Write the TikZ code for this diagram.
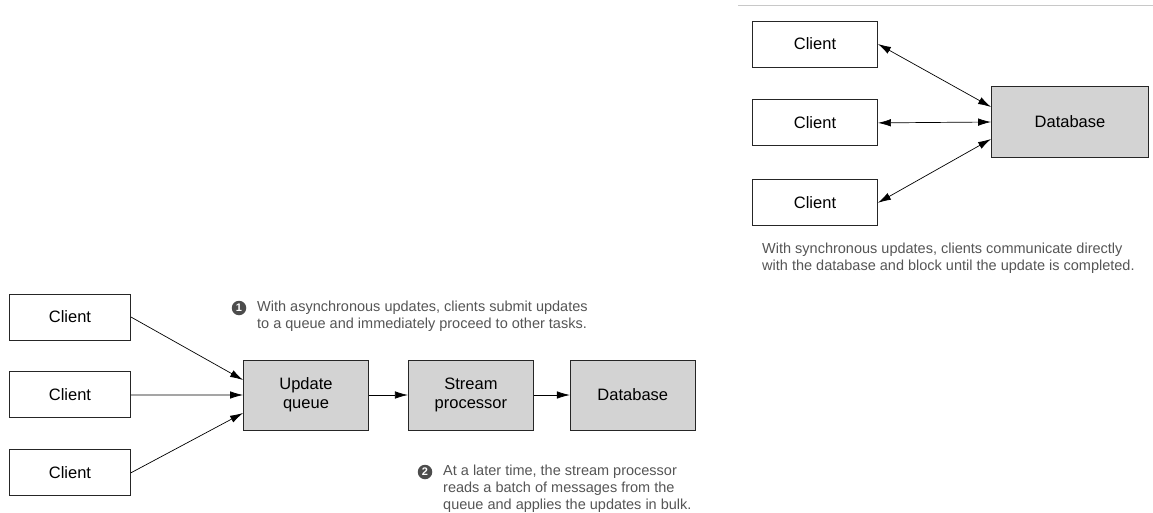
\documentclass[tikz,border=0pt]{standalone}
\usepackage{fontspec}
\setmainfont{Liberation Sans}
\usetikzlibrary{positioning,arrows.meta}
\definecolor{boxgray}{HTML}{D3D3D3}
\definecolor{notegray}{HTML}{555555}
\definecolor{rulegray}{HTML}{C8C8C8}

\begin{document}
\begin{tikzpicture}[x=1pt, y=-1pt,
    box/.style={rectangle, draw=black!85, line width=0.9pt, minimum width=121pt, minimum height=46pt,
        inner sep=0pt, align=center, font=\fontsize{16.5}{19}\selectfont},
    store/.style={box, fill=boxgray, minimum width=125pt, minimum height=70pt},
    link/.style={-{Latex[length=13pt,width=7.5pt]}, line width=0.7pt},
    both/.style={{Latex[length=13pt,width=7.5pt]}-{Latex[length=13pt,width=7.5pt]}, line width=0.7pt},
    note/.style={anchor=north west, align=left, inner sep=0pt, text=notegray,
        font=\fontsize{14.5}{17}\selectfont},
    num/.style={circle, fill=black!70, text=white, inner sep=0pt, minimum size=14.5pt,
        font=\fontsize{11}{11}\selectfont\bfseries}
]
\useasboundingbox (0,0) rectangle (1153,513);

% synchronous updates
\draw[rulegray, line width=0.8pt] (738,5) -- (1153,5);
\node[box, minimum width=125pt] (syncClientA) at (815,44) {Client};
\node[box, minimum width=125pt, below=32pt of syncClientA] (syncClientB) {Client};
\node[box, minimum width=125pt, below=33pt of syncClientB] (syncClientC) {Client};
\node[store, minimum width=157pt, minimum height=71pt] (syncDatabase) at (1070,122) {Database};

\draw[both] (syncClientA.east) -- ([yshift=15pt]syncDatabase.west);
\draw[both] (syncClientB.east) -- (syncDatabase.west);
\draw[both] (syncClientC.east) -- ([yshift=-17pt]syncDatabase.west);

\node[note] (syncNote) at (762,243) {With synchronous updates, clients communicate directly\\
    with the database and block until the update is completed.};

% asynchronous updates
\node[box] (asyncClientA) at (70,317) {Client};
\node[box, below=31pt of asyncClientA] (asyncClientB) {Client};
\node[box, below=31pt of asyncClientB] (asyncClientC) {Client};
\node[store] (updateQueue) at (306,395) {Update\\queue};
\node[store, right=39pt of updateQueue] (streamProcessor) {Stream\\processor};
\node[store, right=36pt of streamProcessor] (asyncDatabase) {Database};

\draw[link] (asyncClientA.east) -- ([yshift=15pt]updateQueue.west);
\draw[link] (asyncClientB.east) -- (updateQueue.west);
\draw[link] (asyncClientC.east) -- ([yshift=-18pt]updateQueue.west);
\draw[link] (updateQueue) -- (streamProcessor);
\draw[link] (streamProcessor) -- (asyncDatabase);

\node[num] (stepOne) at (239,308) {1};
\node[note] (noteOne) at (257,301) {With asynchronous updates, clients submit updates\\
    to a queue and immediately proceed to other tasks.};
\node[num] (stepTwo) at (425,472) {2};
\node[note] (noteTwo) at (443,465) {At a later time, the stream processor\\
    reads a batch of messages from the\\
    queue and applies the updates in bulk.};
\end{tikzpicture}
\end{document}
